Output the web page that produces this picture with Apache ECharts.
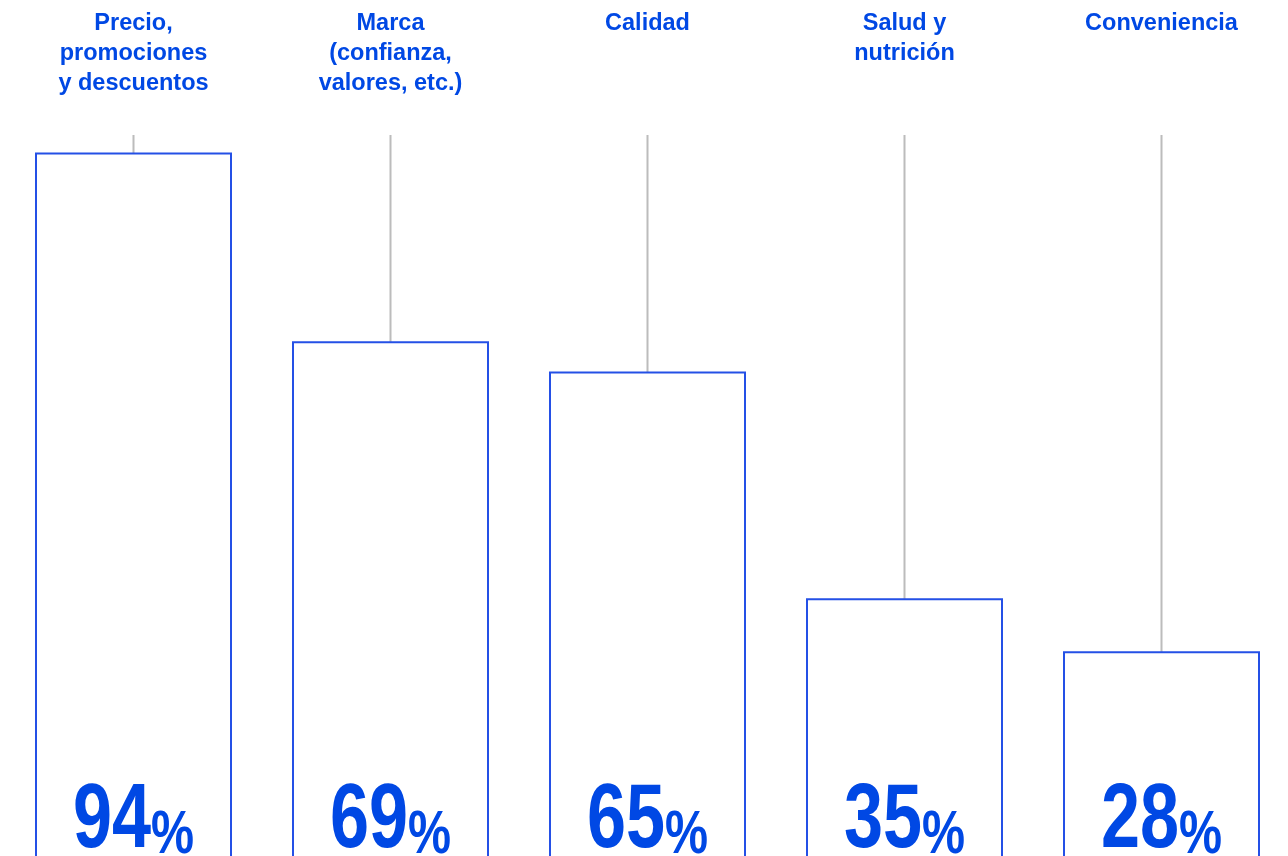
<!DOCTYPE html>
<html>
<head>
<meta charset="utf-8">
<script src="https://cdn.jsdelivr.net/npm/echarts@6/dist/echarts.min.js"></script>
<style>
    html, body { margin: 0; padding: 0; background: #fff; }
    #chart { width: 1288px; height: 856px; }
</style>
</head>
<body>
<div id="chart"></div>
<script>
    // factores de compra
    var categories = ['Precio,\npromociones\ny descuentos', 'Marca\n(confianza,\nvalores, etc.)', 'Calidad', 'Salud y\nnutrición', 'Conveniencia'];
    var values = [94, 69, 65, 35, 28];
    var stemTop = [96.3, 96.3, 96.3, 96.3, 96.3];

    var blue = '#0048e4';
    var border = '#2450e6';

    var chart = echarts.init(document.getElementById('chart'));
    chart.setOption({
        animation: false,
        grid: { left: 5, right: -2, top: 135, bottom: 0, outerBoundsMode: 'none' },
        xAxis: [{
            type: 'category',
            position: 'top',
            data: categories,
            axisLine: { show: false },
            axisTick: { show: false },
            axisLabel: {
                interval: 0,
                margin: 126,
                verticalAlign: 'top',
                color: blue,
                fontFamily: 'Liberation Sans, Arial, sans-serif',
                fontWeight: 'bold',
                fontSize: 23.5,
                lineHeight: 30
            }
        }, {
            type: 'category',
            data: categories,
            show: false
        }],
        yAxis: {
            type: 'value',
            // el cero queda un poco por debajo del borde
            min: 0.9,
            max: 96.3,
            show: false,
            splitLine: { show: false }
        },
        series: [{
            // lineas grises
            type: 'bar',
            xAxisIndex: 1,
            data: stemTop,
            barWidth: 2,
            z: 1,
            clip: false,
            itemStyle: { color: '#bcbcbc' },
            silent: true
        }, {
            type: 'bar',
            data: values,
            barWidth: 197,
            z: 2,
            clip: false,
            itemStyle: { color: '#ffffff', borderColor: border, borderWidth: 2 }
        }, {
            // porcentajes (condensados)
            type: 'custom',
            data: values,
            z: 3,
            clip: false,
            silent: true,
            renderItem: function (params, api) {
                var p = api.coord([api.value(0), 0]);
                return {
                    type: 'text',
                    x: p[0],
                    y: p[1] + 4,
                    scaleX: 0.78,
                    style: {
                        text: '{n|' + api.value(1) + '}{p|%}',
                        align: 'center',
                        verticalAlign: 'bottom',
                        rich: {
                            n: {
                                fontFamily: 'Liberation Sans, Arial, sans-serif',
                                fontWeight: 'bold',
                                fontSize: 90,
                                fill: blue,
                                verticalAlign: 'bottom'
                            },
                            p: {
                                fontFamily: 'Liberation Sans, Arial, sans-serif',
                                fontWeight: 'bold',
                                fontSize: 62,
                                fill: blue,
                                verticalAlign: 'bottom'
                            }
                        }
                    }
                };
            }
        }]
    });
</script>
</body>
</html>
